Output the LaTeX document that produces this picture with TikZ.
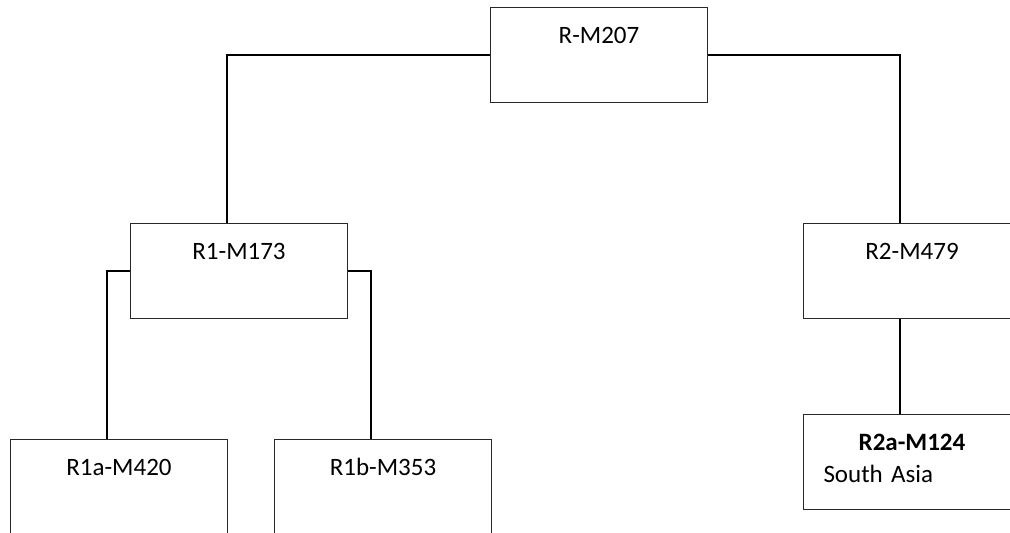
\documentclass[tikz,border=0pt]{standalone}
\usepackage{fontspec}
\setmainfont{Carlito}
\usetikzlibrary{positioning}
\definecolor{boxline}{RGB}{40,40,40}
\tikzset{
  box/.style={rectangle, draw=boxline, line width=0.5pt, fill=white, anchor=north west,
              minimum width=108.5pt, inner sep=0pt, text height=18pt, text depth=29.5pt,
              font=\fontsize{12.5}{16}\selectfont},
  notebox/.style={box, inner xsep=10pt, text width=88.5pt, align=left},
  link/.style={line width=0.8pt, draw=black}
}
\begin{document}
\begin{tikzpicture}[x=0.5pt, y=-0.5pt]
\useasboundingbox (0,0) rectangle (1010,533);
\clip (0,0) rectangle (1010,533);
\node[box] (rt) at (490,7) {R-M207};
\node[box] (r1) at (130,223) {R1-M173};
\node[box] (r2) at (803,223) {R2-M479};
\node[box] (r1a) at (10,439) {R1a-M420};
\node[box] (r1b) at (274,439) {R1b-M353};
\node[notebox] (r2a) at (803,414) {\makebox[\linewidth]{\textbf{R2a-M124}}\\ South Asia};
\draw[link] (rt.west) -| ([xshift=-6pt]r1.north);
\draw[link] (rt.east) -| ([xshift=-6pt]r2.north);
\draw[link] (r1.west) -| ([xshift=-6pt]r1a.north);
\draw[link] (r1.east) -| ([xshift=-6pt]r1b.north);
\draw[link] ([xshift=-6pt]r2.south) -- ([xshift=-6pt]r2a.north);
\end{tikzpicture}
\end{document}
